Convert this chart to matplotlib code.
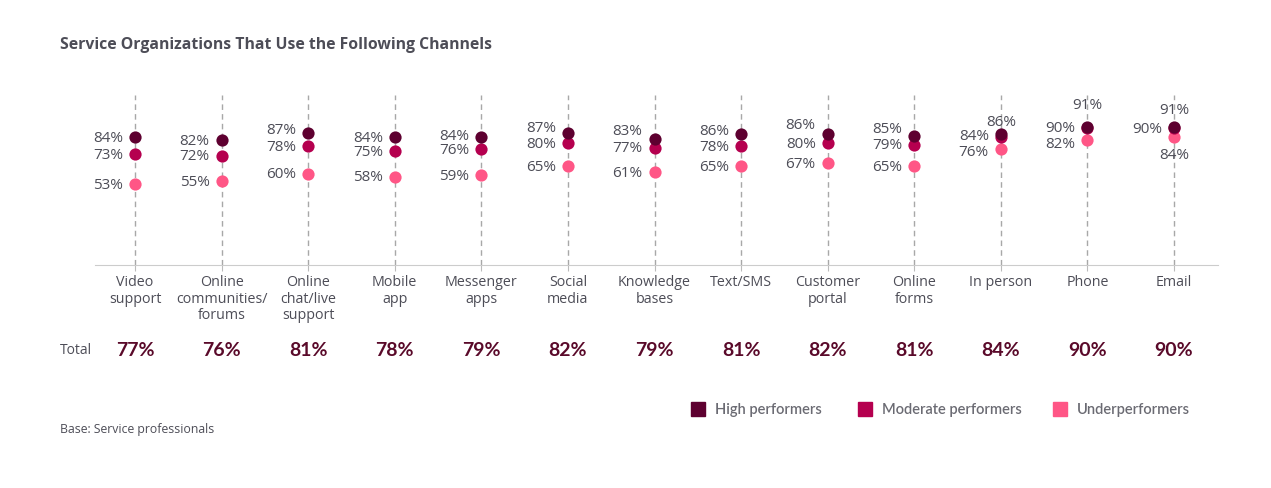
import matplotlib
matplotlib.use("Agg")
import matplotlib.pyplot as plt
from matplotlib.patches import Rectangle

categories = ["Video\nsupport", "Online\ncommunities/\nforums", "Online\nchat/live\nsupport",
              "Mobile\napp", "Messenger\napps", "Social\nmedia", "Knowledge\nbases",
              "Text/SMS", "Customer\nportal", "Online\nforms", "In person", "Phone", "Email"]
high = [84, 82, 87, 84, 84, 87, 83, 86, 86, 85, 86, 91, 91]
moderate = [73, 72, 78, 75, 76, 80, 77, 78, 80, 79, 84, 90, 90]
under = [53, 55, 60, 58, 59, 65, 61, 65, 67, 65, 76, 82, 84]
total = [77, 76, 81, 78, 79, 82, 79, 81, 82, 81, 84, 90, 90]
series_names = ["High performers", "Moderate performers", "Underperformers"]

C_HIGH = "#5e0030"
C_MOD = "#b5004f"
C_UNDER = "#ff5686"
TXT = "#4d4d57"

plt.rcParams['font.family'] = ['Open Sans', 'DejaVu Sans']

W, H = 1271, 489
fig = plt.figure(figsize=(W / 100, H / 100), dpi=100)

x0, x1 = 95, 1218
ybase, ytop = 266, 96
ax = fig.add_axes([x0 / W, (H - ybase) / H, (x1 - x0) / W, (ybase - ytop) / H])
ppu = (1174 - 135) / 12.0
ax.set_xlim(-(135 - x0) / ppu, 12 + (x1 - 1174) / ppu)
ax.set_ylim(0, (ybase - ytop) / 1.52)

n = len(categories)
xs = list(range(n))
for x in xs:
    ax.axvline(x, color="#a8a8a8", lw=1, ls=(0, (4, 3)), zorder=0)

ms = 8.8
ax.plot(xs, under, 'o', color=C_UNDER, ms=ms, mec='none', zorder=3)
ax.plot(xs, moderate, 'o', color=C_MOD, ms=ms, mec='none', zorder=4)
ax.plot(xs, high, 'o', color=C_HIGH, ms=ms, mec='none', zorder=5)

for s in ['top', 'right', 'left']:
    ax.spines[s].set_visible(False)
ax.spines['bottom'].set_color("#cccccc")
ax.set_yticks([])
ax.set_xticks(xs)
ax.set_xticklabels([])
ax.tick_params(axis='x', length=4, color="#bbbbbb")

# label placements: default left of dot; some special cases
high_dy = {2: 3, 4: 2, 5: 5, 6: 8, 7: 4, 8: 10, 9: 7}
mod_dy = {10: 2, 11: 1}
under_dy = {10: -2, 11: -3}
special = {
    (10, 'h'): ('above', 13), (11, 'h'): ('above', 22), (12, 'h'): ('above', 17),
    (12, 'u'): ('below', 17),
}
fs = 11
for i in xs:
    for key, vals in (('h', high), ('m', moderate), ('u', under)):
        v = vals[i]
        sp = special.get((i, key))
        if sp is None:
            if key == 'h':
                dy = high_dy.get(i, 0)
            elif key == 'm':
                dy = mod_dy.get(i, 0)
            else:
                dy = under_dy.get(i, 0)
            ax.annotate(f"{v}%", (i, v), xytext=(-12, dy), textcoords='offset pixels',
                        ha='right', va='center', fontsize=fs, color=TXT)
        else:
            where, d = sp
            dy = d if where == 'above' else -d
            ax.annotate(f"{v}%", (i, v), xytext=(0, dy), textcoords='offset pixels',
                        ha='center', va='center', fontsize=fs, color=TXT)

# category labels & totals
for i, c in enumerate(categories):
    ax.annotate(c, (i, 0), xytext=(0, -9), textcoords='offset pixels',
                ha='center', va='top', fontsize=10.3, color=TXT, linespacing=1.15,
                annotation_clip=False)
    ax.annotate(f"{total[i]}%", (i, 0), xytext=(0, -84), textcoords='offset pixels',
                ha='center', va='center', fontsize=14, fontweight='bold', color="#5a0a2a",
                family=['Lato', 'DejaVu Sans'], annotation_clip=False)

fig.text(60 / W, 1 - 350 / H, "Total", ha='left', va='center', fontsize=10, color=TXT)

fig.text(60 / W, 1 - 45 / H, "Service Organizations That Use the Following Channels",
         ha='left', va='center', fontsize=11.3, fontweight='bold', color=TXT)
fig.text(60 / W, 1 - 430 / H, "Base: Service professionals",
         ha='left', va='center', fontsize=8.8, color=TXT)

# legend
leg_x = [691, 858, 1053]
for lx, name, col in zip(leg_x, series_names, [C_HIGH, C_MOD, C_UNDER]):
    fig.patches.append(Rectangle((lx / W, 1 - 417 / H), 14 / W, 14 / H, color=col,
                                 transform=fig.transFigure, figure=fig))
    fig.text((lx + 24) / W, 1 - 410 / H, name, ha='left', va='center', fontsize=10.5,
             fontweight='semibold', color="#6b6b73", family=['Lato', 'DejaVu Sans'])

fig.savefig("out.png", dpi=100, facecolor='white')
